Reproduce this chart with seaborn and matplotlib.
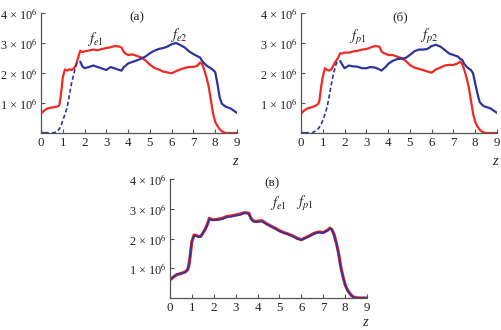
import numpy as np
import pandas as pd
import matplotlib
matplotlib.use("Agg")
import matplotlib.pyplot as plt
import seaborn as sns

# ---- data (values in units of 1e6) ----
z = [0, 0.15, 0.3, 0.5, 0.7, 0.8, 0.85, 0.9, 0.95, 1.0,
     1.1, 1.2, 1.3, 1.4, 1.5, 1.6, 1.7, 1.8, 1.9, 2.0,
     2.2, 2.4, 2.6, 2.8, 3.0, 3.2, 3.4, 3.6, 3.7, 3.8,
     3.9, 4.0, 4.2, 4.4, 4.6, 4.8, 5.0, 5.2, 5.4, 5.6,
     5.8, 6.0, 6.2, 6.4, 6.6, 6.8, 7.0, 7.2, 7.3, 7.4,
     7.5, 7.6, 7.7, 7.8, 7.9, 8.0, 8.1, 8.2, 8.3, 8.4,
     8.5, 8.7, 9.0]

fe1 = [0.65, 0.75, 0.82, 0.85, 0.87, 0.90, 0.95, 1.20, 1.50, 1.85,
       2.12, 2.08, 2.12, 2.10, 2.15, 2.25, 2.50, 2.74, 2.70, 2.72,
       2.75, 2.78, 2.76, 2.80, 2.83, 2.86, 2.90, 2.88, 2.85, 2.70,
       2.64, 2.60, 2.62, 2.57, 2.52, 2.42, 2.28, 2.17, 2.12, 2.05,
       2.02, 1.99, 2.06, 2.12, 2.17, 2.20, 2.20, 2.25, 2.35, 2.30,
       2.10, 1.85, 1.55, 1.10, 0.65, 0.37, 0.24, 0.13, 0.06, 0.02,
       0.00, 0.00, 0.00]

fe2 = [0.00, 0.00, 0.00, 0.00, 0.03, 0.10, 0.15, 0.20, 0.30, 0.42,
       0.62, 0.85, 1.25, 1.65, 1.95, 2.25, 2.40, 2.38, 2.22, 2.16,
       2.20, 2.25, 2.20, 2.15, 2.10, 2.20, 2.15, 2.10, 2.08, 2.20,
       2.25, 2.32, 2.37, 2.42, 2.48, 2.55, 2.66, 2.74, 2.80, 2.83,
       2.88, 2.96, 3.00, 2.93, 2.85, 2.72, 2.63, 2.55, 2.52, 2.40,
       2.32, 2.25, 2.20, 2.16, 2.10, 2.03, 1.65, 1.21, 0.98, 0.92,
       0.87, 0.82, 0.67]

fp1 = [0.65, 0.75, 0.82, 0.86, 0.92, 0.98, 1.10, 1.40, 1.65, 1.88,
       2.16, 2.10, 2.08, 2.12, 2.27, 2.40, 2.50, 2.66, 2.65, 2.68,
       2.68, 2.72, 2.74, 2.78, 2.80, 2.85, 2.90, 2.88, 2.72, 2.66,
       2.64, 2.60, 2.60, 2.55, 2.50, 2.41, 2.27, 2.18, 2.14, 2.10,
       2.05, 2.01, 2.12, 2.18, 2.25, 2.27, 2.27, 2.32, 2.38, 2.30,
       2.10, 1.85, 1.54, 1.10, 0.65, 0.37, 0.22, 0.12, 0.05, 0.02,
       0.00, 0.00, 0.00]

fp2 = [0.00, 0.00, 0.00, 0.00, 0.08, 0.15, 0.20, 0.26, 0.33, 0.42,
       0.62, 0.87, 1.25, 1.65, 2.00, 2.27, 2.45, 2.40, 2.27, 2.16,
       2.25, 2.22, 2.21, 2.16, 2.16, 2.20, 2.18, 2.12, 2.08, 2.15,
       2.21, 2.30, 2.40, 2.46, 2.48, 2.50, 2.60, 2.72, 2.78, 2.78,
       2.80, 2.90, 2.94, 2.88, 2.77, 2.65, 2.60, 2.55, 2.48, 2.44,
       2.30, 2.21, 2.15, 2.10, 1.99, 1.65, 1.32, 1.04, 0.95, 0.89,
       0.87, 0.82, 0.67]

c_fe1 = [0.61, 0.70, 0.78, 0.82, 0.88, 0.95, 1.05, 1.28, 1.60, 1.90,
         2.12, 2.10, 2.07, 2.07, 2.18, 2.30, 2.46, 2.68, 2.64, 2.63,
         2.65, 2.68, 2.74, 2.76, 2.79, 2.82, 2.87, 2.85, 2.68, 2.60,
         2.57, 2.58, 2.60, 2.50, 2.42, 2.35, 2.26, 2.20, 2.15, 2.09,
         2.01, 1.96, 2.03, 2.10, 2.18, 2.22, 2.20, 2.28, 2.35, 2.30,
         2.12, 1.85, 1.51, 1.06, 0.73, 0.45, 0.28, 0.17, 0.08, 0.03,
         0.01, 0.00, 0.00]

c_fp1 = [0.62, 0.71, 0.79, 0.83, 0.87, 0.94, 1.06, 1.30, 1.62, 1.91,
         2.10, 2.08, 2.06, 2.06, 2.17, 2.29, 2.45, 2.66, 2.62, 2.62,
         2.63, 2.66, 2.72, 2.74, 2.77, 2.80, 2.86, 2.84, 2.66, 2.58,
         2.56, 2.56, 2.58, 2.49, 2.41, 2.33, 2.25, 2.19, 2.14, 2.08,
         2.00, 1.95, 2.02, 2.09, 2.17, 2.21, 2.19, 2.27, 2.34, 2.29,
         2.11, 1.84, 1.50, 1.05, 0.72, 0.44, 0.27, 0.16, 0.07, 0.02,
         0.00, 0.00, 0.00]

xticks = [0, 1, 2, 3, 4, 5, 6, 7, 8, 9]
yticks = [1, 2, 3, 4]
ytick_labels = ["1 × 10$^{6}$", "2 × 10$^{6}$", "3 × 10$^{6}$", "4 × 10$^{6}$"]

RED = "#ee2a24"
BLUE = "#2d359c"

sns.set_style("ticks")
plt.rcParams["font.family"] = ["Liberation Serif", "DejaVu Serif"]
plt.rcParams["mathtext.fontset"] = "stix"
plt.rcParams["axes.edgecolor"] = "#555555"
plt.rcParams["xtick.color"] = "#555555"
plt.rcParams["ytick.color"] = "#555555"
plt.rcParams["xtick.labelcolor"] = "#222222"
plt.rcParams["ytick.labelcolor"] = "#222222"

fig = plt.figure(figsize=(5.02, 3.30), dpi=100)
W, H = 502.0, 330.0
FS = 8.8


def make_ax(left, right, top, bottom):
    return fig.add_axes([left / W, 1 - bottom / H, (right - left) / W, (bottom - top) / H])


def style(ax, zy):
    ax.set_xlim(0, 9)
    ax.set_ylim(0, 4)
    ax.set_xticks(xticks)
    ax.set_xticklabels([str(t) for t in xticks], fontsize=FS + 0.6)
    ax.set_yticks(yticks)
    ax.set_yticklabels(ytick_labels, fontsize=FS)
    ax.tick_params(direction="in", length=3, width=0.8, pad=3)
    ax.tick_params(axis="y", pad=2.5)
    for s in ["top", "right"]:
        ax.spines[s].set_visible(False)
    for s in ["left", "bottom"]:
        ax.spines[s].set_linewidth(0.9)
    ax.set_xlabel("")
    ax.set_ylabel("")
    ax.text(0.99, zy, "z", transform=ax.transAxes, fontsize=10.5,
            fontstyle="italic", ha="center", va="center", color="#222222")


def plot_pair(ax, r, b, dash_idx):
    df = pd.DataFrame({"z": z, "r": r, "b": b})
    sns.lineplot(data=df, x="z", y="r", ax=ax, color=RED, lw=1.6)
    dash = df.loc[df.index.isin(dash_idx)]
    rest = df.loc[~df.index.isin(dash_idx)]
    for part in [rest.loc[rest.index <= min(dash_idx)], rest.loc[rest.index >= max(dash_idx)]]:
        if len(part) > 1:
            ax.plot(part["z"], part["b"], color=BLUE, lw=1.6)
    ax.plot(dash["z"], dash["b"], color=BLUE, lw=1.2, ls=(0, (2.5, 1.5)))


# (a)
ax_a = make_ax(41, 237, 13, 133)
idx_dash_a = list(range(3, 17))
plot_pair(ax_a, fe1, fe2, idx_dash_a)
style(ax_a, -0.24)
ax_a.text(4.4, 3.85, "(a)", fontsize=FS + 0.7, ha="center", va="center")
ax_a.text(2.5, 3.15, r"$f_{e1}$", fontsize=10.5, ha="center", va="center")
ax_a.text(6.35, 3.25, r"$f_{e2}$", fontsize=10.5, ha="center", va="center")

# (б)
ax_b = make_ax(301, 497, 13, 133)
idx_dash_b = list(range(3, 17))
plot_pair(ax_b, fp1, fp2, idx_dash_b)
style(ax_b, -0.24)
ax_b.text(4.55, 3.85, "(б)", fontsize=FS + 0.7, ha="center", va="center")
ax_b.text(2.6, 3.18, r"$f_{p1}$", fontsize=10.5, ha="center", va="center")
ax_b.text(5.9, 3.22, r"$f_{p2}$", fontsize=10.5, ha="center", va="center")

# (в)
ax_c = make_ax(170, 367, 179, 298)
dfc = pd.DataFrame({"z": z, "r": c_fe1, "b": c_fp1})
sns.lineplot(data=dfc, x="z", y="r", ax=ax_c, color=RED, lw=2.3)
sns.lineplot(data=dfc, x="z", y="b", ax=ax_c, color=BLUE, lw=1.3)
style(ax_c, -0.205)
ax_c.text(4.65, 3.87, "(в)", fontsize=FS + 0.7, ha="center", va="center")
ax_c.text(4.95, 3.18, r"$f_{e1}$", fontsize=10.5, ha="center", va="center")
ax_c.text(6.15, 3.18, r"$f_{p1}$", fontsize=10.5, ha="center", va="center")

fig.savefig("out.png", dpi=100)
